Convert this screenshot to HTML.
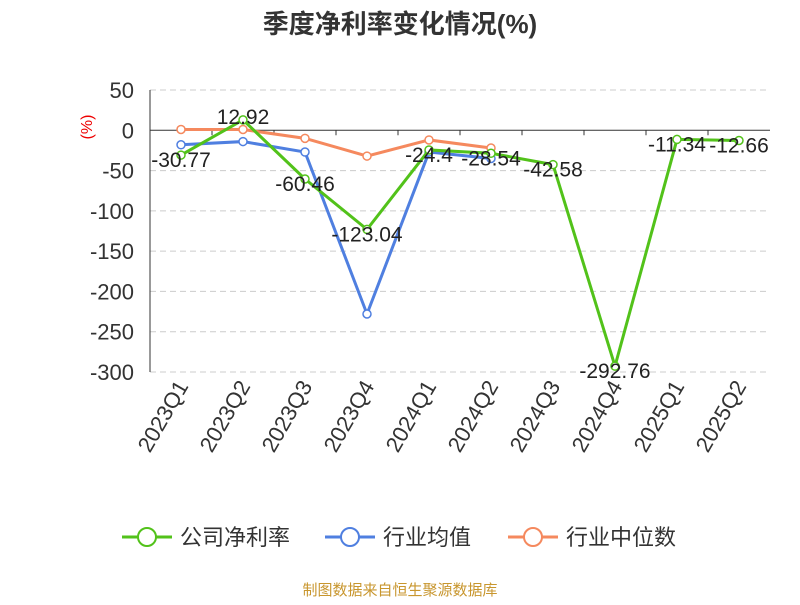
<!DOCTYPE html>
<html><head><meta charset="utf-8"><style>
body{margin:0;background:#fff;font-family:"Liberation Sans","Noto Sans CJK SC",sans-serif}
</style></head><body>
<svg width="800" height="600" xmlns="http://www.w3.org/2000/svg" font-family="Liberation Sans, Noto Sans CJK SC, sans-serif">
<text x="400" y="33" text-anchor="middle" font-size="26" font-weight="bold" fill="#333">季度净利率变化情况(%)</text>
<text x="92" y="127" text-anchor="middle" font-size="16" fill="#e00" transform="rotate(-90 92 127)">(%)</text>
<g id="grid"></g><g id="axes"></g><g id="series"></g>
<g id="legend"></g>
<text x="400" y="595" text-anchor="middle" font-size="15" fill="#c8962e">制图数据来自恒生聚源数据库</text>
</svg>
<script>
const categories=["2023Q1","2023Q2","2023Q3","2023Q4","2024Q1","2024Q2","2024Q3","2024Q4","2025Q1","2025Q2"];
const companyValues=[-30.77,12.92,-60.46,-123.04,-24.4,-28.54,-42.58,-292.76,-11.34,-12.66];
const industryMean=[-18,-14,-27,-228,-27,-35];
const industryMedian=[1,1,-10,-32,-12,-22];
const yTicks=[50,0,-50,-100,-150,-200,-250,-300];
const NS="http://www.w3.org/2000/svg";
const x0=150,x1=770,yTop=90,yBot=372,vMax=50,vMin=-300;
const bw=(x1-x0)/categories.length;
function xs(i){return x0+bw*(i+0.5);}
function ys(v){return yTop+(vMax-v)/(vMax-vMin)*(yBot-yTop);}
function mk(t,a,p){const e=document.createElementNS(NS,t);for(const k in a)e.setAttribute(k,a[k]);p.appendChild(e);return e;}
const grid=document.getElementById('grid'),axes=document.getElementById('axes'),ser=document.getElementById('series'),leg=document.getElementById('legend');
yTicks.forEach(v=>{
 const l=mk('line',{x1:x0,x2:x1,y1:ys(v),y2:ys(v),stroke:v===0?'#333':'#ccc','stroke-dasharray':v===0?'':'6,4'},grid);
 
 
 const t=mk('text',{x:x0-16,y:ys(v)+8,'text-anchor':'end','font-size':22,fill:'#333'},axes);t.textContent=v;
 
 
});
const ya=mk('line',{x1:x0,x2:x0,y1:yTop,y2:yBot,stroke:'#333'},axes);


categories.forEach((c,i)=>{
 const tk=mk('line',{x1:x0+bw*i,x2:x0+bw*i,y1:ys(0),y2:ys(0)+5,stroke:'#333'},axes);
 
 
 const t=mk('text',{x:xs(i)+8,y:386,'text-anchor':'end','font-size':22,fill:'#333',transform:`rotate(-60 ${xs(i)+8} 386)`},axes);t.textContent=c;
 
 
});
function series(vals,color,name){
 const p=mk('polyline',{points:vals.map((v,i)=>xs(i)+','+ys(v)).join(' '),fill:'none',stroke:color,'stroke-width':3},ser);
 
 
 vals.forEach((v,i)=>{const c=mk('circle',{cx:xs(i),cy:ys(v),r:4,fill:'#fff',stroke:color,'stroke-width':1.5},ser);
 
 });
}
series(industryMedian,'#f5895e','industry-median');
series(industryMean,'#4f7fe0','industry-mean');
series(companyValues,'#52c21a','company');
companyValues.forEach((v,i)=>{const t=mk('text',{x:xs(i),y:i===1?ys(v)+4:ys(v)+12,'text-anchor':'middle','font-size':21,fill:'#222'},ser);
 t.textContent=String(v);
 
 });
const items=[["公司净利率","#52c21a",122],["行业均值","#4f7fe0",325],["行业中位数","#f5895e",508]];
items.forEach(([n,c,x])=>{
 const g=mk('g',{},leg);
 
 
 mk('line',{x1:x,x2:x+50,y1:537,y2:537,stroke:c,'stroke-width':3},g);
 mk('circle',{cx:x+25,cy:537,r:9,fill:'#fff',stroke:c,'stroke-width':2},g);
 const t=mk('text',{x:x+58,y:545,'font-size':22,fill:'#333'},g);t.textContent=n;
});
</script>
</body></html>
